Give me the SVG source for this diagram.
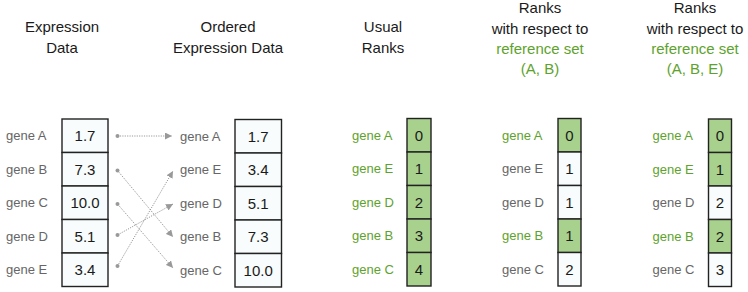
<svg xmlns="http://www.w3.org/2000/svg" width="748" height="292" viewBox="0 0 748 292">
<defs>
<style>
text{font-family:"Liberation Sans",Arial,sans-serif}
.h{font-size:15px;fill:#1a1a1a;text-anchor:middle}
.hg{font-size:15px;fill:#5ea22e;text-anchor:middle}
.g{font-size:13px;fill:#666}
.gg{font-size:13px;fill:#5ea22e}
.v{font-size:15px;fill:#1a1a1a;text-anchor:middle}
.c{fill:#f8fcfc;stroke:#222;stroke-width:1.4}
.cg{fill:#a9d18e;stroke:#222;stroke-width:1.4}
.ln{stroke:#999;stroke-width:1;stroke-dasharray:1.2 1.2;fill:none}
.dot{fill:#999}
</style>
<marker id="ah" viewBox="0 0 10 10" refX="10" refY="5" markerWidth="7" markerHeight="7" markerUnits="userSpaceOnUse" orient="auto">
<path d="M0,0 L10,5 L0,10 Z" fill="#999"/>
</marker>
</defs>
<rect width="748" height="292" fill="#fff"/>

<g id="hdr-expr">
<text class="h" x="62" y="32">Expression</text>
<text class="h" x="62" y="53">Data</text>
</g>
<g id="hdr-ordered">
<text class="h" x="228" y="32">Ordered</text>
<text class="h" x="228" y="53">Expression Data</text>
</g>
<g id="hdr-usual">
<text class="h" x="383" y="32">Usual</text>
<text class="h" x="383" y="53">Ranks</text>
</g>
<g id="hdr-refAB">
<text class="h" x="540" y="13">Ranks</text>
<text class="h" x="540" y="34">with respect to</text>
<text class="hg" x="540" y="54">reference set</text>
<text class="hg" x="540" y="74">(A, B)</text>
</g>
<g id="hdr-refABE">
<text class="h" x="695" y="13">Ranks</text>
<text class="h" x="695" y="34">with respect to</text>
<text class="hg" x="695" y="54">reference set</text>
<text class="hg" x="695" y="74">(A, B, E)</text>
</g>

<g id="expression-data">
<rect class="c" x="62" y="119" width="46" height="33.5"/>
<rect class="c" x="62" y="152.5" width="46" height="33.5"/>
<rect class="c" x="62" y="186" width="46" height="33.5"/>
<rect class="c" x="62" y="219.5" width="46" height="33.5"/>
<rect class="c" x="62" y="253" width="46" height="33.5"/>
<text class="v" x="85" y="141">1.7</text>
<text class="v" x="85" y="174.5">7.3</text>
<text class="v" x="85" y="208">10.0</text>
<text class="v" x="85" y="241.5">5.1</text>
<text class="v" x="85" y="275">3.4</text>
<text class="g" x="6" y="140">gene A</text>
<text class="g" x="6" y="173.5">gene B</text>
<text class="g" x="6" y="207">gene C</text>
<text class="g" x="6" y="240.5">gene D</text>
<text class="g" x="6" y="274">gene E</text>
</g>

<g id="ordered-data">
<rect class="c" x="235" y="119.5" width="46.5" height="33.5"/>
<rect class="c" x="235" y="153" width="46.5" height="33.5"/>
<rect class="c" x="235" y="186.5" width="46.5" height="33.5"/>
<rect class="c" x="235" y="220" width="46.5" height="33.5"/>
<rect class="c" x="235" y="253.5" width="46.5" height="33.5"/>
<text class="v" x="258.2" y="141.5">1.7</text>
<text class="v" x="258.2" y="175">3.4</text>
<text class="v" x="258.2" y="208.5">5.1</text>
<text class="v" x="258.2" y="242">7.3</text>
<text class="v" x="258.2" y="275.5">10.0</text>
<text class="g" x="180" y="140.5">gene A</text>
<text class="g" x="180" y="174">gene E</text>
<text class="g" x="180" y="207.5">gene D</text>
<text class="g" x="180" y="241">gene B</text>
<text class="g" x="180" y="274.5">gene C</text>
</g>

<g id="usual-ranks">
<rect class="cg" x="407" y="118.5" width="24" height="33.5"/>
<rect class="cg" x="407" y="152" width="24" height="33.5"/>
<rect class="cg" x="407" y="185.5" width="24" height="33.5"/>
<rect class="cg" x="407" y="219" width="24" height="33.5"/>
<rect class="cg" x="407" y="252.5" width="24" height="33.5"/>
<text class="v" x="419" y="140.5">0</text>
<text class="v" x="419" y="174">1</text>
<text class="v" x="419" y="207.5">2</text>
<text class="v" x="419" y="241">3</text>
<text class="v" x="419" y="274.5">4</text>
<text class="gg" x="352" y="139.5">gene A</text>
<text class="gg" x="352" y="173">gene E</text>
<text class="gg" x="352" y="206.5">gene D</text>
<text class="gg" x="352" y="240">gene B</text>
<text class="gg" x="352" y="273.5">gene C</text>
</g>

<g id="ranks-ref-AB">
<rect class="cg" x="558" y="118.5" width="23" height="33.5"/>
<rect class="c" x="558" y="152" width="23" height="33.5"/>
<rect class="c" x="558" y="185.5" width="23" height="33.5"/>
<rect class="cg" x="558" y="219" width="23" height="33.5"/>
<rect class="c" x="558" y="252.5" width="23" height="33.5"/>
<text class="v" x="569.5" y="140.5">0</text>
<text class="v" x="569.5" y="174">1</text>
<text class="v" x="569.5" y="207.5">1</text>
<text class="v" x="569.5" y="241">1</text>
<text class="v" x="569.5" y="274.5">2</text>
<text class="gg" x="502" y="139.5">gene A</text>
<text class="g" x="502" y="173">gene E</text>
<text class="g" x="502" y="206.5">gene D</text>
<text class="gg" x="502" y="240">gene B</text>
<text class="g" x="502" y="273.5">gene C</text>
</g>

<g id="ranks-ref-ABE">
<rect class="cg" x="708.5" y="119" width="23" height="33.5"/>
<rect class="cg" x="708.5" y="152.5" width="23" height="33.5"/>
<rect class="c" x="708.5" y="186" width="23" height="33.5"/>
<rect class="cg" x="708.5" y="219.5" width="23" height="33.5"/>
<rect class="c" x="708.5" y="253" width="23" height="33.5"/>
<text class="v" x="720" y="141">0</text>
<text class="v" x="720" y="174.5">1</text>
<text class="v" x="720" y="208">2</text>
<text class="v" x="720" y="241.5">2</text>
<text class="v" x="720" y="275">3</text>
<text class="gg" x="652.5" y="140">gene A</text>
<text class="gg" x="652.5" y="173.5">gene E</text>
<text class="g" x="652.5" y="207">gene D</text>
<text class="gg" x="652.5" y="240.5">gene B</text>
<text class="g" x="652.5" y="274">gene C</text>
</g>

<g id="connectors">
<line class="ln" x1="117.5" y1="136" x2="172" y2="136" marker-end="url(#ah)"/>
<line class="ln" x1="117.5" y1="170.5" x2="173" y2="237" marker-end="url(#ah)"/>
<line class="ln" x1="117.5" y1="204" x2="173" y2="268" marker-end="url(#ah)"/>
<line class="ln" x1="117.5" y1="235" x2="173" y2="204" marker-end="url(#ah)"/>
<line class="ln" x1="117.5" y1="266" x2="173" y2="171" marker-end="url(#ah)"/>
<circle class="dot" cx="117.5" cy="136" r="2"/>
<circle class="dot" cx="117.5" cy="170.5" r="2"/>
<circle class="dot" cx="117.5" cy="204" r="2"/>
<circle class="dot" cx="117.5" cy="235" r="2"/>
<circle class="dot" cx="117.5" cy="266" r="2"/>
</g>
</svg>
